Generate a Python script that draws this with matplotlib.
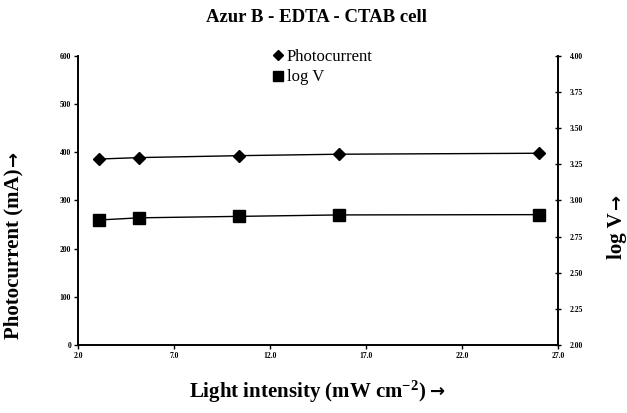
import numpy as np
import matplotlib
matplotlib.use("Agg")
import matplotlib.pyplot as plt

plt.rcParams['font.family'] = ['Liberation Serif', 'DejaVu Serif']
plt.rcParams['mathtext.fontset'] = 'custom'
plt.rcParams['mathtext.rm'] = 'Liberation Serif:bold'
plt.rcParams['mathtext.bf'] = 'Liberation Serif:bold'
plt.rcParams['mathtext.it'] = 'Liberation Serif:bold'

# data
intensity = [3.1, 5.2, 10.4, 15.6, 26.0]
photocurrent = [386, 389, 393, 396, 398]
log_v = [2.865, 2.880, 2.890, 2.900, 2.902]

xticks = [2.0, 7.0, 12.0, 17.0, 22.0, 27.0]
left_ticks = [0, 100, 200, 300, 400, 500, 600]
right_ticks = [2.00, 2.25, 2.50, 2.75, 3.00, 3.25, 3.50, 3.75, 4.00]

fig = plt.figure(figsize=(6.27, 4.13), dpi=100)
ax = fig.add_axes([0.1244, 0.1646, 0.7656, 0.70])
ax2 = ax.twinx()

l1, = ax.plot(intensity, photocurrent, color='black', lw=1, marker='D',
              markersize=6, label='Photocurrent')
l2, = ax2.plot(intensity, log_v, color='black', lw=1, marker='s',
               markersize=8, label='log V')

ax.set_xlim(2.0, 27.0)
ax.set_ylim(0, 600)
ax2.set_ylim(2.0, 4.0)
ax.set_xticks(xticks)
ax.set_xticklabels(['%.1f' % t for t in xticks])
ax.set_yticks(left_ticks)
ax.set_yticklabels([str(t) for t in left_ticks])
ax2.set_yticks(right_ticks)
ax2.set_yticklabels(['%.2f' % t for t in right_ticks])

for a in (ax, ax2):
    a.spines['top'].set_visible(False)
    a.spines['left'].set_linewidth(1.2)
    a.spines['bottom'].set_linewidth(1.2)
    a.spines['right'].set_linewidth(1.2)
ax.tick_params(axis='both', labelsize=5.5, length=3, width=1, pad=2)
ax2.tick_params(axis='y', labelsize=5.5, length=5, width=1, direction='inout', pad=6)
for lab in ax.get_xticklabels() + ax.get_yticklabels() + ax2.get_yticklabels():
    lab.set_fontweight('bold')

# axis labels, arrow drawn as separate text in a heavier font
xl = fig.text(0.49, 0.051, r'Light intensity (mW cm$^{\mathbf{-2}}$)',
              ha='center', va='center', fontsize=15, fontweight='bold')
yl = fig.text(0.0223, 0.385, 'Photocurrent (mA)', rotation=90,
              ha='center', va='center', fontsize=15, fontweight='bold')
rl = fig.text(0.984, 0.43, 'log V', rotation=90,
              ha='center', va='center', fontsize=15, fontweight='bold')

fig.text(0.504, 0.957, 'Azur B - EDTA - CTAB cell', ha='center', va='center',
         fontsize=13.5, fontweight='bold')

leg = fig.legend(handles=[l1, l2], loc='upper left', bbox_to_anchor=(0.436, 0.882),
                 frameon=False, fontsize=12, handlelength=0.5, handletextpad=0.3,
                 labelspacing=0.28, borderaxespad=0, borderpad=0)
for h in leg.legend_handles:
    h.set_linestyle('None')
leg.legend_handles[0].set_markersize(5)
leg.legend_handles[1].set_markersize(7)

fig.canvas.draw()
r = fig.canvas.get_renderer()
W, H = fig.bbox.width, fig.bbox.height
b = xl.get_window_extent(r)
fig.text((b.x1 + 4) / W, 0.051, '→', ha='left', va='center',
         fontsize=13, fontweight='bold', family='DejaVu Sans')
b = yl.get_window_extent(r)
fig.text(0.0223, (b.y1 + 3) / H, '→', rotation=90, ha='center', va='bottom',
         fontsize=13, fontweight='bold', family='DejaVu Sans')
b = rl.get_window_extent(r)
fig.text(0.984, (b.y1 + 3) / H, '→', rotation=90, ha='center', va='bottom',
         fontsize=13, fontweight='bold', family='DejaVu Sans')

fig.savefig('out.png', dpi=100)
